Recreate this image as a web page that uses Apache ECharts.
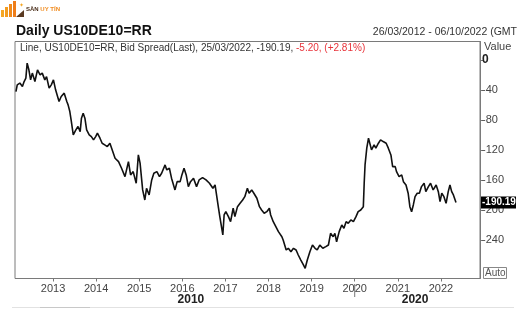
<!DOCTYPE html>
<html>
<head>
<meta charset="utf-8">
<script src="https://cdn.jsdelivr.net/npm/echarts@6/dist/echarts.min.js"></script>
<style>
  html, body { margin: 0; padding: 0; background: #fff; }
  #chart { width: 527px; height: 325px; }
</style>
</head>
<body>
<div id="chart"></div>
<script>
// US10DE10=RR bid spread (basis points), time as decimal years
const years = [
  2012.14, 2012.17, 2012.23, 2012.29, 2012.33, 2012.37, 2012.40, 2012.44, 2012.48, 2012.52,
  2012.58, 2012.64, 2012.70, 2012.75, 2012.81, 2012.85, 2012.91, 2012.96, 2013.01, 2013.06,
  2013.10, 2013.14, 2013.19, 2013.26, 2013.32, 2013.35, 2013.39, 2013.42, 2013.47, 2013.53,
  2013.58, 2013.63, 2013.66, 2013.70, 2013.74, 2013.78, 2013.84, 2013.89, 2013.94, 2013.99,
  2014.03, 2014.09, 2014.14, 2014.20, 2014.26, 2014.32, 2014.36, 2014.44, 2014.52, 2014.59,
  2014.67, 2014.75, 2014.80, 2014.86, 2014.93, 2014.98, 2015.02, 2015.08, 2015.13, 2015.17,
  2015.23, 2015.29, 2015.34, 2015.41, 2015.47, 2015.52, 2015.60, 2015.64, 2015.70, 2015.75,
  2015.83, 2015.88, 2015.95, 2015.99, 2016.04, 2016.09, 2016.14, 2016.19, 2016.26, 2016.33,
  2016.39, 2016.47, 2016.55, 2016.63, 2016.71, 2016.76, 2016.80, 2016.84, 2016.87, 2016.91,
  2016.94, 2016.97, 2017.01, 2017.07, 2017.12, 2017.18, 2017.22, 2017.28, 2017.34, 2017.40,
  2017.45, 2017.51, 2017.55, 2017.61, 2017.66, 2017.73, 2017.79, 2017.84, 2017.90, 2017.96,
  2018.02, 2018.05, 2018.11, 2018.17, 2018.23, 2018.31, 2018.34, 2018.41, 2018.46, 2018.52,
  2018.58, 2018.64, 2018.69, 2018.75, 2018.81, 2018.85, 2018.90, 2018.96, 2019.02, 2019.08,
  2019.13, 2019.19, 2019.26, 2019.33, 2019.39, 2019.44, 2019.50, 2019.54, 2019.58, 2019.64,
  2019.70, 2019.75, 2019.80, 2019.85, 2019.91, 2019.97, 2020.03, 2020.08, 2020.14, 2020.20,
  2020.22, 2020.24, 2020.28, 2020.32, 2020.36, 2020.39, 2020.45, 2020.49, 2020.55, 2020.60,
  2020.66, 2020.73, 2020.78, 2020.84, 2020.88, 2020.94, 2020.97, 2021.03, 2021.09, 2021.13,
  2021.19, 2021.24, 2021.28, 2021.32, 2021.36, 2021.40, 2021.45, 2021.50, 2021.55, 2021.61,
  2021.65, 2021.71, 2021.76, 2021.82, 2021.89, 2021.94, 2021.98, 2022.02, 2022.07, 2022.12,
  2022.17, 2022.21, 2022.25, 2022.29, 2022.35
];
const spread = [
  -42.3, -33.3, -31.0, -35.6, -28.9, -24.4, -4.4, -13.3, -26.7, -17.7,
  -28.9, -13.3, -20.0, -17.7, -26.7, -22.3, -37.7, -33.3, -26.7, -40.0,
  -42.3, -55.6, -48.9, -44.4, -55.6, -60.0, -68.9, -80.0, -100.0, -93.3,
  -88.9, -95.6, -77.7, -71.1, -77.7, -93.3, -100.0, -102.3, -106.7, -102.3,
  -97.7, -104.4, -111.1, -113.3, -115.6, -111.1, -117.7, -131.1, -135.6, -144.4,
  -155.6, -135.6, -153.3, -148.9, -164.4, -126.7, -137.7, -173.3, -186.7, -171.1,
  -180.0, -160.0, -151.1, -148.9, -155.6, -151.1, -140.0, -146.7, -144.4, -157.7,
  -173.3, -162.3, -162.3, -153.3, -144.4, -153.3, -168.9, -162.3, -157.7, -168.9,
  -160.0, -156.9, -160.0, -164.4, -171.1, -166.7, -168.9, -197.7, -208.9, -206.7,
  -233.3, -206.7, -202.3, -208.9, -215.6, -197.7, -208.9, -195.6, -191.1, -186.7,
  -182.3, -171.1, -177.7, -173.3, -177.7, -184.4, -195.6, -200.0, -204.4, -202.3,
  -197.7, -206.7, -215.6, -222.3, -228.9, -235.6, -240.0, -253.3, -251.1, -255.6,
  -251.1, -253.3, -260.0, -266.7, -273.3, -277.7, -266.7, -255.6, -246.7, -251.1,
  -253.3, -246.7, -251.1, -248.9, -246.7, -231.1, -235.6, -231.1, -242.3, -228.9,
  -220.0, -224.4, -215.6, -217.7, -213.3, -215.6, -208.9, -202.3, -200.0, -195.6,
  -164.4, -140.0, -117.7, -104.4, -106.7, -120.0, -113.3, -117.7, -111.1, -106.7,
  -108.9, -111.1, -117.7, -126.7, -142.3, -142.3, -148.9, -155.6, -153.3, -162.3,
  -166.7, -177.7, -195.6, -202.3, -193.3, -182.3, -177.7, -177.7, -168.9, -164.4,
  -175.6, -168.9, -164.4, -173.3, -166.7, -175.6, -188.9, -177.7, -182.3, -191.1,
  -175.6, -166.7, -175.6, -180.0, -190.19
];
const yearTicks = [2013, 2014, 2015, 2016, 2017, 2018, 2019, 2020, 2021, 2022];
const valueTicks = [0, -40, -80, -120, -160, -200, -240];
const decades = ['2010', '2020'];

const lastValue = spread[spread.length - 1];
const X_MIN = 2012.118, X_MAX = 2022.907;

const chart = echarts.init(document.getElementById('chart'), null, { renderer: 'canvas' });

const FONT = 'Liberation Sans, Arial, sans-serif';

chart.setOption({
  animation: false,
  backgroundColor: '#ffffff',
  grid: {
    left: 15, right: 47, top: 41.5, bottom: 46.5,
    show: true, borderColor: '#7a7a7a', borderWidth: 1, backgroundColor: 'transparent'
  },
  xAxis: {
    type: 'value', min: X_MIN, max: X_MAX,
    axisLine: { show: false, onZero: false },
    splitLine: { show: false },
    axisTick: { show: true, length: 3, customValues: yearTicks, lineStyle: { color: '#777' } },
    axisLabel: {
      customValues: yearTicks, margin: 5,
      fontFamily: FONT, fontSize: 11, color: '#444',
      formatter: v => String(Math.round(v))
    }
  },
  yAxis: {
    type: 'value', position: 'right', min: -291.3, max: 24.4,
    axisLine: { show: true, lineStyle: { color: '#7a7a7a' } },
    splitLine: { show: false },
    axisTick: { show: true, length: 3, customValues: valueTicks, lineStyle: { color: '#777' } },
    axisLabel: {
      customValues: valueTicks, margin: 2,
      fontFamily: FONT, fontSize: 11, color: '#444',
      formatter: v => v === 0 ? '{z|0}' : String(v),
      rich: { z: { fontWeight: 'bold', fontSize: 12, color: '#222', fontFamily: FONT } }
    }
  },
  series: [{
    type: 'line',
    data: years.map((y, i) => [y, spread[i]]),
    showSymbol: false,
    lineStyle: { color: '#111', width: 1.6 },
    z: 3
  }]
});

// Last-value tag on the value axis, placed through the axis scale
const tagPos = chart.convertToPixel({ gridIndex: 0 }, [X_MAX, lastValue]);
const yearPx = chart.convertToPixel({ gridIndex: 0 }, [2020, 0])[0];
const decadePx = [
  chart.convertToPixel({ gridIndex: 0 }, [2016.2, 0])[0],
  chart.convertToPixel({ gridIndex: 0 }, [2021.4, 0])[0]
];

chart.setOption({
  graphic: [
    // small brand mark
    { type: 'rect', shape: { x: 1, y: 10, width: 3, height: 7 }, style: { fill: '#f5a623' } },
    { type: 'rect', shape: { x: 5, y: 7, width: 3, height: 10 }, style: { fill: '#f39c1f' } },
    { type: 'rect', shape: { x: 9, y: 4, width: 3, height: 13 }, style: { fill: '#f08a1c' } },
    { type: 'rect', shape: { x: 13, y: 1, width: 3, height: 16 }, style: { fill: '#ee7d1a' } },
    { type: 'polygon', shape: { points: [[16, 17], [24, 10], [24, 17]] }, style: { fill: '#5a3a22' } },
    { type: 'text', x: 19, y: 2, style: { text: '✦', font: '6px ' + FONT, fill: '#f5a623' } },
    { type: 'text', x: 26, y: 6, style: {
        text: '{a|SÀN }{b|UY TÍN}',
        rich: {
          a: { fontSize: 6, fontWeight: 'bold', fill: '#4a2e1a', fontFamily: FONT },
          b: { fontSize: 6, fontWeight: 'bold', fill: '#f08a1c', fontFamily: FONT }
        }
    } },
    // title
    { type: 'text', x: 16, y: 24, style: {
        text: 'Daily US10DE10=RR', font: 'bold 14px ' + FONT, fill: '#111'
    } },
    // date range
    { type: 'text', right: 10, y: 27, style: {
        text: '26/03/2012 - 06/10/2022 (GMT', font: '10.5px ' + FONT, fill: '#333'
    } },
    // series legend line
    { type: 'text', x: 20, y: 43, style: {
        text: '{k|Line, US10DE10=RR, Bid Spread(Last), 25/03/2022, -190.19, }{r|-5.20, (+2.81%)}',
        rich: {
          k: { fontSize: 10, fill: '#333', fontFamily: FONT },
          r: { fontSize: 10, fill: '#e8333a', fontFamily: FONT }
        }
    } },
    // value axis caption
    { type: 'text', x: 484, y: 41, style: { text: 'Value', font: '11px ' + FONT, fill: '#444' } },
    // last value tag
    { type: 'rect', shape: { x: 481, y: tagPos[1] - 6, width: 35, height: 12 }, style: { fill: '#000' }, z: 10 },
    { type: 'text', x: 482, y: tagPos[1] - 5, z: 11, style: {
        text: '-190.19', font: 'bold 10px ' + FONT, fill: '#fff'
    } },
    // scale mode box
    { type: 'rect', shape: { x: 483.5, y: 267.5, width: 23, height: 11 }, style: { fill: '#fff', stroke: '#888', lineWidth: 1 } },
    { type: 'text', x: 485, y: 268, style: { text: 'Auto', font: '10px ' + FONT, fill: '#555' } },
    // decade row
    { type: 'line', shape: { x1: yearPx, y1: 284, x2: yearPx, y2: 297 }, style: { stroke: '#777', lineWidth: 1 } },
    { type: 'text', x: decadePx[0], y: 294, style: {
        text: decades[0], font: 'bold 12px ' + FONT, fill: '#222', align: 'center'
    } },
    { type: 'text', x: decadePx[1], y: 294, style: {
        text: decades[1], font: 'bold 12px ' + FONT, fill: '#222', align: 'center'
    } },
    { type: 'line', shape: { x1: 12, y1: 307.5, x2: 514, y2: 307.5 }, style: { stroke: '#e2e2e2', lineWidth: 1 } },
    { type: 'line', shape: { x1: 40, y1: 307.5, x2: 90, y2: 307.5 }, style: { stroke: '#c8c8c8', lineWidth: 1 } }
  ]
});
</script>
</body>
</html>
